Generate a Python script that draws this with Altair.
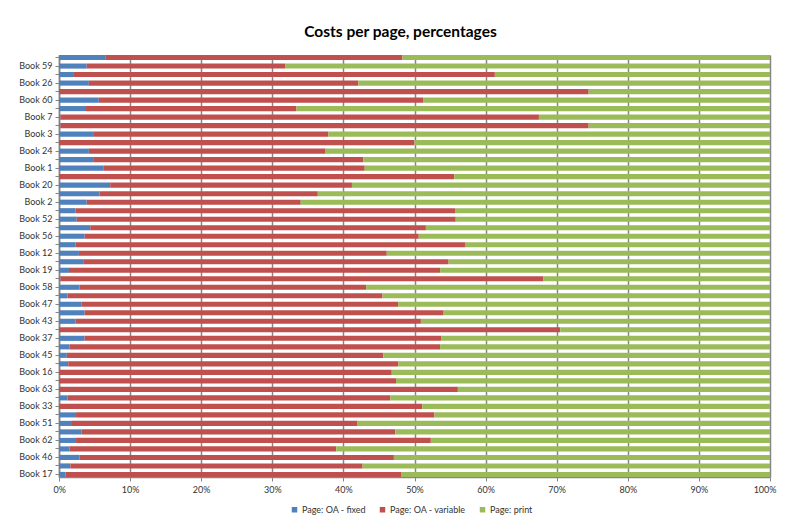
import altair as alt
import pandas as pd
import json

# Row labels, top to bottom (unlabelled rows in the original are empty strings)
labels = ["", "Book 59", "", "Book 26", "", "Book 60", "", "Book 7", "", "Book 3",
          "", "Book 24", "", "Book 1", "", "Book 20", "", "Book 2", "", "Book 52",
          "", "Book 56", "", "Book 12", "", "Book 19", "", "Book 58", "", "Book 47",
          "", "Book 43", "", "Book 37", "", "Book 45", "", "Book 16", "", "Book 63",
          "", "Book 33", "", "Book 51", "", "Book 62", "", "Book 46", "", "Book 17"]

# Share of "Page: OA - fixed" (%) per row
oa_fixed = [6.5, 3.9, 2.1, 4.2, 0.0, 5.6, 3.8, 0.2, 0.2, 4.8,
            0.0, 4.2, 4.8, 6.3, 0.0, 7.2, 5.7, 3.9, 2.3, 2.5,
            4.4, 3.6, 2.3, 2.8, 3.4, 1.4, 0.2, 2.9, 1.2, 3.2,
            3.6, 2.3, 0.0, 3.6, 1.5, 1.1, 1.3, 0.0, 0.0, 0.0,
            1.2, 0.0, 2.4, 1.7, 3.2, 2.4, 1.5, 2.9, 1.6, 0.9]

# Cumulative OA share (fixed + variable, %) per row
oa_total = [48.3, 31.8, 61.3, 42.1, 74.5, 51.2, 33.4, 67.5, 74.5, 37.9,
            50.0, 37.5, 42.8, 43.0, 55.6, 41.2, 36.4, 34.0, 55.7, 55.8,
            51.6, 50.6, 57.1, 46.1, 54.8, 53.6, 68.1, 43.2, 45.5, 47.7,
            54.1, 50.9, 70.5, 53.8, 53.6, 45.6, 47.7, 46.8, 47.4, 56.1,
            46.6, 51.1, 52.8, 42.0, 47.3, 52.3, 39.0, 47.1, 42.7, 48.1]

series = ["Page: OA - fixed", "Page: OA - variable", "Page: print"]
colors = ["#4f81bd", "#c0504d", "#9bbb59"]

rows = []
for i in range(len(labels)):
    vals = [oa_fixed[i], oa_total[i] - oa_fixed[i], 100 - oa_total[i]]
    for k, s in enumerate(series):
        rows.append({"row": i, "series": s, "order": k, "value": vals[k] / 100.0})
df = pd.DataFrame(rows)

label_expr = json.dumps(labels) + "[datum.value]"
FONT = "Lato"

chart = alt.Chart(df).mark_bar().encode(
    y=alt.Y("row:O", sort="ascending",
            scale=alt.Scale(paddingInner=0.4, paddingOuter=0.0),
            axis=alt.Axis(title=None, labelExpr=label_expr, labelOverlap=False,
                          labelFontSize=9, labelColor="#333333", labelFont=FONT,
                          domainColor="#868686", domainWidth=1.5,
                          tickColor="#868686", tickSize=4, labelPadding=3)),
    x=alt.X("value:Q", stack="zero",
            scale=alt.Scale(domain=[0, 1], nice=False),
            axis=alt.Axis(title=None, format=".0%", values=[i / 10 for i in range(11)],
                          labelFontSize=9, labelColor="#333333", labelFont=FONT,
                          labelFlush=True, labelFlushOffset=6, labelOverlap=False,
                          grid=True, gridColor="#868686", gridWidth=1.5,
                          domainColor="#868686", domainWidth=1.5,
                          tickColor="#868686", tickSize=4, labelPadding=4)),
    color=alt.Color("series:N",
                    scale=alt.Scale(domain=series, range=colors),
                    legend=alt.Legend(title=None, orient="none", direction="horizontal",
                                      legendX=231, legendY=450, symbolType="square",
                                      symbolSize=30, symbolStrokeWidth=0,
                                      labelFontSize=9, labelFont=FONT, labelColor="#333333",
                                      columnPadding=12, padding=0, labelOffset=3)),
    order=alt.Order("order:Q"),
).properties(
    width=711,
    height=422,
    padding={"left": 51, "top": 47, "right": 9, "bottom": 38},
    autosize=alt.AutoSizeParams(type="none"),
    title=alt.Title("Costs per page, percentages", font=FONT, fontSize=15.5,
                    fontWeight="bold", color="#000000", anchor="middle",
                    offset=13, dx=-14),
).configure_view(stroke=None).configure(background="#ffffff")

chart.save("out.html", embed_options={"renderer": "svg", "actions": False})
